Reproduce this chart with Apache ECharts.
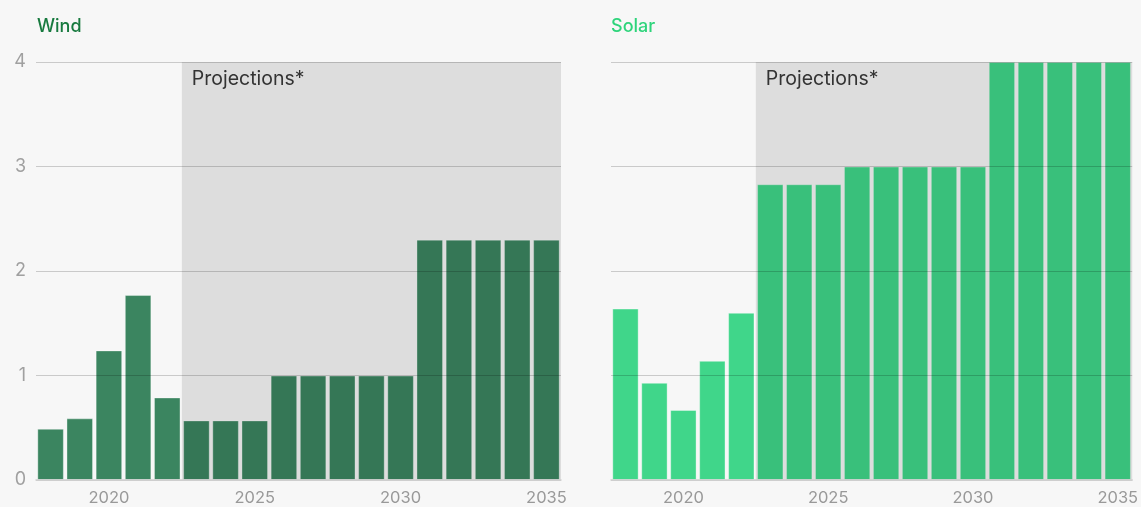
<!DOCTYPE html>
<html>
<head>
<meta charset="utf-8">
<script src="https://cdn.jsdelivr.net/npm/echarts@6/dist/echarts.min.js"></script>
<style>
html,body{margin:0;padding:0;background:#f7f7f7;}
#c{width:1141px;height:507px;}
</style>
</head>
<body>
<div id="c"></div>
<script>
var years = ['2018','2019','2020','2021','2022','2023','2024','2025','2026','2027','2028','2029','2030','2031','2032','2033','2034','2035'];
var windValues = [0.49,0.59,1.24,1.77,0.79,0.57,0.57,0.57,1.0,1.0,1.0,1.0,1.0,2.3,2.3,2.3,2.3,2.3];
var solarValues = [1.64,0.93,0.67,1.14,1.60,2.83,2.83,2.83,3.0,3.0,3.0,3.0,3.0,4.0,4.0,4.0,4.0,4.0];
var projectionFirstYear = '2023';
var projectionLabel = 'Projections*';
var yTicks = [0,1,2,3,4];
var titles = ['Wind','Solar'];

var FONT = 'Inter, "Noto Sans", sans-serif';
var chart = echarts.init(document.getElementById('c'));

var projStart = years.indexOf(projectionFirstYear);
var projEnd = years.length - 1;
var yMax = yTicks[yTicks.length-1];

function shadeRender(params, api){
  var s = api.value(0), e = api.value(1);
  var bw = api.size([1,0])[0];
  var p0 = api.coord([s, yMax]);
  var p1 = api.coord([e, 0]);
  var x0 = p0[0] - bw/2, x1 = p1[0] + bw/2;
  return {
    type:'group',
    children:[
      {type:'rect', shape:{x:x0, y:p0[1], width:x1-x0, height:p1[1]-p0[1]}, style:{fill:'rgba(0,0,0,0.1)'}},
      {type:'text', x:x0+10, y:p0[1]+7, style:{text:projectionLabel, fill:'#333', font:'19.5px '+FONT, textVerticalAlign:'top'}}
    ]
  };
}

function xAxis(i){
  return {
    type:'category', gridIndex:i, data:years,
    axisLine:{lineStyle:{color:'#cfcfcf', width:1.5}},
    axisTick:{alignWithLabel:true, length:5, lineStyle:{color:'#aaa'}, interval:function(idx,v){return (+v)%5===0;}},
    axisLabel:{color:'#999', fontSize:16.5, fontFamily:FONT, margin:10, interval:function(idx,v){return (+v)%5===0;}},
    z:10
  };
}
function yAxis(i, show){
  return {
    type:'value', gridIndex:i, min:0, max:yMax, interval:1,
    axisLine:{show:false}, axisTick:{show:false},
    axisLabel:{show:show, color:'#a0a0a0', fontSize:18, fontFamily:FONT, margin:10},
    splitLine:{lineStyle:{color:'rgba(0,0,0,0.18)', width:1.2}},
    z:10
  };
}

chart.setOption({
  backgroundColor:'#f7f7f7',
  animation:false,
  title:[
    {text:titles[0], left:32, top:13, textStyle:{color:'#187a3f', fontSize:18, fontWeight:500, fontFamily:FONT}},
    {text:titles[1], left:606, top:13, textStyle:{color:'#2ed47b', fontSize:18, fontWeight:500, fontFamily:FONT}}
  ],
  grid:[
    {left:36, width:525, top:62, bottom:27},
    {left:611, width:525, top:62, bottom:27}
  ],
  xAxis:[xAxis(0), xAxis(1)],
  yAxis:[yAxis(0,true), yAxis(1,false)],
  series:[
    {type:'bar', xAxisIndex:0, yAxisIndex:0, data:windValues, barCategoryGap:'9%',
     itemStyle:{color:'#3b8560', borderColor:'rgba(255,255,255,0.35)', borderWidth:1}, z:2},
    {type:'bar', xAxisIndex:1, yAxisIndex:1, data:solarValues, barCategoryGap:'9%',
     itemStyle:{color:'#40d68a', borderColor:'rgba(255,255,255,0.35)', borderWidth:1}, z:2},
    {type:'custom', xAxisIndex:0, yAxisIndex:0, renderItem:shadeRender, data:[[projStart, projEnd]], z:5, silent:true, clip:false},
    {type:'custom', xAxisIndex:1, yAxisIndex:1, renderItem:shadeRender, data:[[projStart, projEnd]], z:5, silent:true, clip:false}
  ]
});
</script>
</body>
</html>
